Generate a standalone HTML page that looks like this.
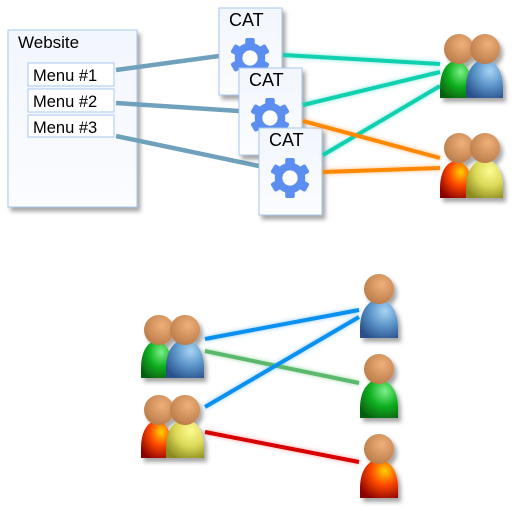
<!DOCTYPE html>
<html><head><meta charset="utf-8"><style>
html,body{margin:0;padding:0;background:#fff;width:512px;height:512px;overflow:hidden}
</style></head><body>
<svg width="512" height="512" viewBox="0 0 512 512" xmlns="http://www.w3.org/2000/svg" font-family="Liberation Sans, sans-serif">
<defs>
<linearGradient id="box" x1="0" y1="0" x2="0" y2="1"><stop offset="0" stop-color="#f2f6fd"/><stop offset="1" stop-color="#fbfcff"/></linearGradient>
<radialGradient id="head" cx="0.6" cy="0.35" r="0.7"><stop offset="0" stop-color="#f0b07a"/><stop offset="1" stop-color="#b87a48"/></radialGradient>
<radialGradient id="green" cx="0.65" cy="0.3" r="0.8"><stop offset="0" stop-color="#7cf08a"/><stop offset="0.5" stop-color="#10b020"/><stop offset="1" stop-color="#056010"/></radialGradient>
<radialGradient id="blue" cx="0.65" cy="0.3" r="0.8"><stop offset="0" stop-color="#a8d4f4"/><stop offset="0.5" stop-color="#5a94c8"/><stop offset="1" stop-color="#2a4f8a"/></radialGradient>
<radialGradient id="orange" cx="0.65" cy="0.3" r="0.8"><stop offset="0" stop-color="#ffd000"/><stop offset="0.45" stop-color="#ff4a00"/><stop offset="1" stop-color="#8a0000"/></radialGradient>
<radialGradient id="yellow" cx="0.65" cy="0.3" r="0.8"><stop offset="0" stop-color="#fcfc90"/><stop offset="0.5" stop-color="#dcd858"/><stop offset="1" stop-color="#8a8a20"/></radialGradient>
<filter id="sh" x="-20%" y="-20%" width="150%" height="150%"><feDropShadow dx="3" dy="4" stdDeviation="2" flood-color="#000" flood-opacity="0.35"/></filter>
<filter id="glow" x="-10%" y="-50%" width="120%" height="200%"><feGaussianBlur stdDeviation="2"/></filter>
<symbol id="gear" viewBox="-22 -22 44 44">
<g fill="#5b8ef0">
<circle r="16"/>
<rect x="-5" y="-21" width="10" height="42" rx="2"/>
<rect x="-5" y="-21" width="10" height="42" rx="2" transform="rotate(60)"/>
<rect x="-5" y="-21" width="10" height="42" rx="2" transform="rotate(120)"/>
</g>
<circle r="8" fill="#fff"/>
</symbol>
</defs>

<!-- website -->
<rect x="8" y="30" width="129" height="177" fill="url(#box)" stroke="#a8c8f0" filter="url(#sh)"/>
<text x="18" y="48" font-size="17">Website</text>
<g font-size="16.5">
<rect x="28" y="63" width="86" height="23" fill="#fff" stroke="#a8c8f0"/><text x="33" y="81">Menu #1</text>
<rect x="28" y="89" width="86" height="23" fill="#fff" stroke="#a8c8f0"/><text x="33" y="107">Menu #2</text>
<rect x="28" y="115" width="86" height="22" fill="#fff" stroke="#a8c8f0"/><text x="33" y="133">Menu #3</text>
</g>

<!-- menu lines -->
<g stroke="#6fa0bc" stroke-width="4.5">
<line x1="116" y1="70" x2="219" y2="56"/>
<line x1="116" y1="103" x2="239" y2="111"/>
<line x1="116" y1="136" x2="259" y2="166"/>
</g>

<!-- CATs -->
<rect x="219" y="8" width="63" height="87" fill="url(#box)" stroke="#a8c8f0" filter="url(#sh)"/>
<text x="229" y="26" font-size="18">CAT</text>
<use href="#gear" x="229" y="37" width="42" height="42"/>
<rect x="239" y="68" width="63" height="87" fill="url(#box)" stroke="#a8c8f0" filter="url(#sh)"/>
<text x="249" y="86" font-size="18">CAT</text>
<use href="#gear" x="249" y="97" width="42" height="42"/>
<rect x="259" y="128" width="63" height="87" fill="url(#box)" stroke="#a8c8f0" filter="url(#sh)"/>
<text x="269" y="146" font-size="18">CAT</text>
<use href="#gear" x="269" y="157" width="42" height="42"/>

<!-- top connectors -->
<g stroke-width="4" fill="none">
<g filter="url(#glow)" opacity="0.6">
<line x1="283" y1="55" x2="440" y2="64" stroke="#2ad8c0"/>
<line x1="303" y1="105" x2="440" y2="72" stroke="#2ad8c0"/>
<line x1="323" y1="155" x2="440" y2="86" stroke="#2ad8c0"/>
<line x1="303" y1="121" x2="440" y2="158" stroke="#ff9020"/>
<line x1="323" y1="172" x2="440" y2="168" stroke="#ff9020"/>
</g>
<line x1="283" y1="55" x2="440" y2="64" stroke="#10d0b0"/>
<line x1="303" y1="105" x2="440" y2="72" stroke="#10d0b0"/>
<line x1="323" y1="155" x2="440" y2="86" stroke="#10d0b0"/>
<line x1="303" y1="121" x2="440" y2="158" stroke="#ff8800"/>
<line x1="323" y1="172" x2="440" y2="168" stroke="#ff8800"/>
</g>

<!-- bottom connectors -->
<g stroke-width="4">
<g filter="url(#glow)" opacity="0.6">
<line x1="205" y1="339" x2="359" y2="310" stroke="#40a8ff"/>
<line x1="205" y1="351" x2="359" y2="383" stroke="#60c070"/>
<line x1="205" y1="407" x2="359" y2="317" stroke="#40a8ff"/>
<line x1="205" y1="432" x2="359" y2="462" stroke="#ff6060"/>
</g>
<line x1="205" y1="339" x2="359" y2="310" stroke="#0a90f0"/>
<line x1="205" y1="351" x2="359" y2="383" stroke="#5cb86c"/>
<line x1="205" y1="407" x2="359" y2="317" stroke="#0a90f0"/>
<line x1="205" y1="432" x2="359" y2="462" stroke="#d80000"/>
</g>

<!-- people -->
<g filter="url(#sh)">
<path d="M440,98 L440,88 C440,52 472,52 472,88 L472,98 Z" fill="url(#green)"/>
<circle cx="459" cy="49" r="15" fill="url(#head)"/>
<path d="M466,98 L466,88 C466,50 503,50 503,88 L503,98 Z" fill="url(#blue)"/>
<circle cx="485" cy="49" r="15" fill="url(#head)"/>
<path d="M440,198 L440,188 C440,152 472,152 472,188 L472,198 Z" fill="url(#orange)"/>
<circle cx="459" cy="148" r="15" fill="url(#head)"/>
<path d="M466,198 L466,188 C466,150 503,150 503,188 L503,198 Z" fill="url(#yellow)"/>
<circle cx="485" cy="148" r="15" fill="url(#head)"/>
<path d="M141,378 L141,368 C141,332 172,332 172,368 L172,378 Z" fill="url(#green)"/>
<circle cx="159" cy="330" r="15" fill="url(#head)"/>
<path d="M166,378 L166,368 C166,330 204,330 204,368 L204,378 Z" fill="url(#blue)"/>
<circle cx="185" cy="330" r="15" fill="url(#head)"/>
<path d="M141,458 L141,448 C141,412 172,412 172,448 L172,458 Z" fill="url(#orange)"/>
<circle cx="159" cy="410" r="15" fill="url(#head)"/>
<path d="M166,458 L166,448 C166,410 204,410 204,448 L204,458 Z" fill="url(#yellow)"/>
<circle cx="185" cy="410" r="15" fill="url(#head)"/>
<path d="M360,338 L360,328 C360,290 398,290 398,328 L398,338 Z" fill="url(#blue)"/>
<circle cx="379" cy="289" r="15" fill="url(#head)"/>
<path d="M360,418 L360,408 C360,370 398,370 398,408 L398,418 Z" fill="url(#green)"/>
<circle cx="379" cy="369" r="15" fill="url(#head)"/>
<path d="M360,498 L360,488 C360,450 398,450 398,488 L398,498 Z" fill="url(#orange)"/>
<circle cx="379" cy="449" r="15" fill="url(#head)"/>
</g>
</svg>
</body></html>
